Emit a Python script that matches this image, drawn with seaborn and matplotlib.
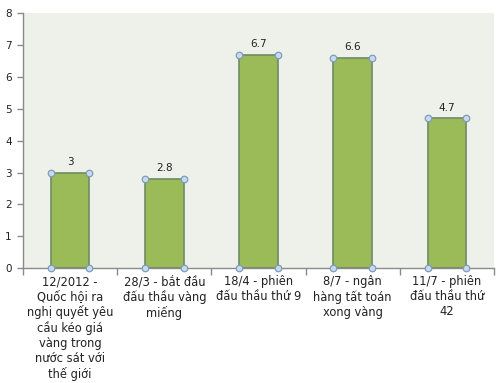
import seaborn as sns
import pandas as pd
import matplotlib.pyplot as plt

labels = [
    "12/2012 -\nQuốc hội ra\nnghị quyết yêu\ncầu kéo giá\nvàng trong\nnước sát với\nthế giới",
    "28/3 - bắt đầu\nđấu thầu vàng\nmiếng",
    "18/4 - phiên\nđấu thầu thứ 9",
    "8/7 - ngân\nhàng tất toán\nxong vàng",
    "11/7 - phiên\nđấu thầu thứ\n42",
]
values = [3, 2.8, 6.7, 6.6, 4.7]
value_text = ["3", "2.8", "6.7", "6.6", "4.7"]

df = pd.DataFrame({"event": labels, "value": values})

sns.set_style("white")
fig = plt.figure(figsize=(5, 3.83), dpi=100)
ax = fig.add_axes([0.046, 0.300, 0.942, 0.665])
ax.set_facecolor("#EEF0EA")

sns.barplot(data=df, x="event", y="value", color="#9BBB59", width=0.41,
            edgecolor="#6F8B63", linewidth=1.2, saturation=1, ax=ax)

# circle markers at the bar corners, label above
for p, txt in zip(ax.patches, value_text):
    x0, x1 = p.get_x(), p.get_x() + p.get_width()
    h = p.get_height()
    ax.scatter([x0, x1, x0, x1], [h, h, 0, 0], s=22, facecolor="#C9DAEA",
               edgecolor="#7C9CBF", linewidth=0.9, zorder=5, clip_on=False)
    ax.text((x0 + x1) / 2, h + 0.18, txt, ha="center", va="bottom",
            fontsize=7.5, color="#222222")

ax.set_xlim(-0.5, 4.5)
ax.set_ylim(0, 8)
ax.set_yticks(range(0, 9))
ax.set_xlabel("")
ax.set_ylabel("")

ax.set_xticks([i + 0.5 for i in range(-1, 5)], minor=True)
ax.set_xticks(range(5))
ax.set_xticklabels(labels, fontsize=8.3, color="#222222", linespacing=1.2)
ax.tick_params(axis="x", which="major", bottom=False, length=0, pad=5)
ax.tick_params(axis="x", which="minor", bottom=True, length=5,
               color="#8A8A8A", width=1, direction="out")
ax.tick_params(axis="y", left=True, length=4, color="#8A8A8A", width=1,
               direction="out", labelsize=7.5, labelcolor="#222222", pad=4)

for s in ["top", "right"]:
    ax.spines[s].set_visible(False)
for s in ["left", "bottom"]:
    ax.spines[s].set_color("#8A8A8A")
    ax.spines[s].set_linewidth(1)

fig.savefig("out.png", dpi=100)
